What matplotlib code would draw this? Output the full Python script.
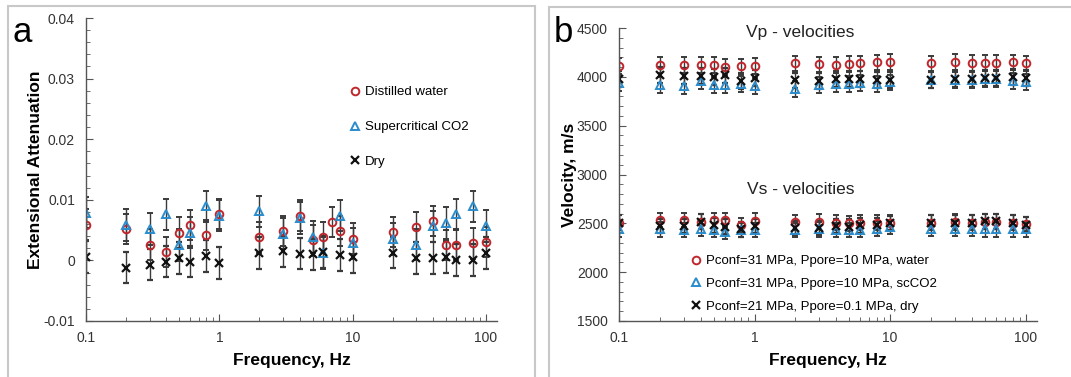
import numpy as np
import matplotlib
matplotlib.use("Agg")
import matplotlib.pyplot as plt
from matplotlib.ticker import MultipleLocator, FuncFormatter, NullFormatter, LogLocator
from matplotlib.patches import Rectangle

plt.rcParams['font.family'] = ['Liberation Sans', 'DejaVu Sans']

# ---- panel a data: extensional attenuation ----
freq_a = [0.1, 0.2, 0.3, 0.4, 0.5, 0.6, 0.8, 1, 2, 3, 4, 5, 6, 8, 10, 20, 30, 40, 50, 60, 80, 100]
freq_water_a = [0.1, 0.2, 0.3, 0.4, 0.5, 0.6, 0.8, 1, 2, 3, 4, 5, 6, 7, 8, 10, 20, 30, 40, 50, 60, 80, 100]
att_water = [0.0059, 0.0052, 0.0026, 0.0014, 0.0046, 0.0058, 0.0042, 0.0077, 0.0038, 0.0049, 0.0074, 0.0033,
             0.0038, 0.0063, 0.0048, 0.0036, 0.0047, 0.0055, 0.0065, 0.0025, 0.0026, 0.0028, 0.0030]
att_co2 = [0.0079, 0.0058, 0.0052, 0.0076, 0.0025, 0.0046, 0.0089, 0.0074, 0.0081, 0.0044, 0.0070, 0.0039,
           0.0012, 0.0074, 0.0028, 0.0035, 0.0026, 0.0056, 0.0062, 0.0076, 0.0089, 0.0057]
att_dry = [0.0006, -0.0012, -0.0007, -0.0002, 0.0004, -0.0002, 0.0007, -0.0004, 0.0012, 0.0015, 0.0011, 0.0010,
           0.0014, 0.0009, 0.0005, 0.0013, 0.0004, 0.0004, 0.0006, 0.0001, 0.0001, 0.0012]
err_water_a = 0.0025
err_co2_a = 0.0026
err_dry_a = 0.0026

# ---- panel b data: velocities ----
freq_b = [0.1, 0.2, 0.3, 0.4, 0.5, 0.6, 0.8, 1, 2, 3, 4, 5, 6, 8, 10, 20, 30, 40, 50, 60, 80, 100]
vp_water = [4113, 4120, 4120, 4120, 4120, 4100, 4107, 4113, 4137, 4127, 4124, 4131, 4137, 4148, 4151,
            4137, 4151, 4144, 4141, 4144, 4148, 4137]
vp_co2 = [3936, 3915, 3908, 3959, 3918, 3915, 3925, 3908, 3874, 3915, 3922, 3925, 3936, 3929, 3942,
          3965, 3968, 3970, 3978, 3980, 3960, 3950]
vp_dry = [3980, 4018, 4007, 4007, 4001, 4014, 3959, 3987, 3963, 3959, 3977, 3980, 3980, 3970, 3970,
          3970, 3977, 3977, 3990, 3990, 3997, 3990]
vs_water = [2506, 2533, 2533, 2516, 2533, 2533, 2482, 2526, 2509, 2516, 2506, 2499, 2506, 2506, 2506,
            2506, 2516, 2506, 2516, 2516, 2506, 2492]
vs_co2 = [2437, 2437, 2430, 2447, 2430, 2413, 2430, 2430, 2430, 2437, 2430, 2430, 2430, 2447, 2464,
          2447, 2447, 2447, 2437, 2437, 2437, 2437]
vs_dry = [2506, 2471, 2471, 2516, 2478, 2465, 2437, 2471, 2454, 2454, 2471, 2465, 2478, 2478, 2499,
          2506, 2506, 2506, 2519, 2519, 2506, 2485]
err_vp = 80
err_vs = 75

labels_a = ["Distilled water", "Supercritical CO2", "Dry"]
labels_b = ["Pconf=31 MPa, Ppore=10 MPa, water", "Pconf=31 MPa, Ppore=10 MPa, scCO2",
            "Pconf=21 MPa, Ppore=0.1 MPa, dry"]

red = '#c0272d'
blue = '#2a8ccc'
blk = '#111111'
ebar = '#3a3a3a'
tickcol = '#333333'

fig = plt.figure(figsize=(10.71, 3.77), dpi=100)

# panel frames
fig.patches.append(Rectangle((8 / 1071, -0.05), (535 - 8) / 1071, 1 - 6 / 377 + 0.05, transform=fig.transFigure,
                             fill=False, ec='#c8c8c8', lw=1.5))
fig.patches.append(Rectangle((549 / 1071, -0.05), 0.5, 1 - 7 / 377 + 0.05, transform=fig.transFigure,
                             fill=False, ec='#c8c8c8', lw=1.5))

ax1 = fig.add_axes([86 / 1071, 1 - 321 / 377, (497 - 86) / 1071, (321 - 18) / 377])
ax2 = fig.add_axes([619 / 1071, 1 - 321 / 377, (1037 - 619) / 1071, (321 - 28) / 377])

eb = dict(ecolor=ebar, elinewidth=1, capsize=2.5, capthick=1, ls='none')

ax1.errorbar(freq_water_a, att_water, yerr=err_water_a, fmt='o', ms=5.5, mfc='none', mec=red, mew=1.4, **eb)
ax1.errorbar(freq_a, att_co2, yerr=err_co2_a, fmt='^', ms=6, mfc='none', mec=blue, mew=1.4, **eb)
ax1.errorbar(freq_a, att_dry, yerr=err_dry_a, fmt='x', ms=6, mec=blk, mew=1.6, **eb)

ax2.errorbar(freq_b, vp_water, yerr=err_vp, fmt='o', ms=5.5, mfc='none', mec=red, mew=1.4, **eb)
ax2.errorbar(freq_b, vp_co2, yerr=err_vp, fmt='^', ms=6, mfc='none', mec=blue, mew=1.4, **eb)
ax2.errorbar(freq_b, vp_dry, yerr=err_vp, fmt='x', ms=6, mec=blk, mew=1.6, **eb)
ax2.errorbar(freq_b, vs_water, yerr=err_vs, fmt='o', ms=5.5, mfc='none', mec=red, mew=1.4, **eb)
ax2.errorbar(freq_b, vs_co2, yerr=err_vs, fmt='^', ms=6, mfc='none', mec=blue, mew=1.4, **eb)
ax2.errorbar(freq_b, vs_dry, yerr=err_vs, fmt='x', ms=6, mec=blk, mew=1.6, **eb)

for ax in (ax1, ax2):
    ax.set_xscale('log')
    ax.set_xlim(0.1, 121)
    ax.xaxis.set_major_locator(LogLocator(base=10, numticks=10))
    ax.xaxis.set_minor_locator(LogLocator(base=10, subs=np.arange(2, 10), numticks=10))
    ax.xaxis.set_minor_formatter(NullFormatter())
    ax.xaxis.set_major_formatter(FuncFormatter(lambda v, p: '%g' % v))
    ax.yaxis.set_major_formatter(FuncFormatter(lambda v, p: '%g' % round(v, 6)))
    ax.spines['top'].set_visible(False)
    ax.spines['right'].set_visible(False)
    for s in ('left', 'bottom'):
        ax.spines[s].set_color('#555555')
        ax.spines[s].set_linewidth(1)
    ax.tick_params(which='both', direction='in', colors='#555555', labelcolor=tickcol, labelsize=10)
    ax.tick_params(which='major', length=5)
    ax.tick_params(which='minor', length=3)
    ax.tick_params(axis='y', pad=8)
    ax.tick_params(axis='x', pad=7)
    ax.set_xlabel('Frequency, Hz', fontsize=12.5, fontweight='bold', labelpad=6)

ax1.set_ylim(-0.01, 0.04)
ax1.yaxis.set_major_locator(MultipleLocator(0.01))
ax1.yaxis.set_minor_locator(MultipleLocator(0.002))
ax1.set_ylabel('Extensional Attenuation', fontsize=12.5, fontweight='bold', labelpad=0)

ax2.set_ylim(1500, 4500)
ax2.yaxis.set_major_locator(MultipleLocator(500))
ax2.yaxis.set_minor_locator(MultipleLocator(100))
ax2.set_ylabel('Velocity, m/s', fontsize=12.5, fontweight='bold', labelpad=0)

# legends (markers only)
lh = [plt.Line2D([], [], ls='none', marker='o', ms=5.5, mfc='none', mec=red, mew=1.4),
      plt.Line2D([], [], ls='none', marker='^', ms=6, mfc='none', mec=blue, mew=1.4),
      plt.Line2D([], [], ls='none', marker='x', ms=6, mec=blk, mew=1.6)]
ax1.legend(lh, labels_a, loc='upper left', bbox_to_anchor=(350 / 1071, 1 - 86 / 377),
           bbox_transform=fig.transFigure, frameon=False, fontsize=9.5, handlelength=0.8,
           handletextpad=0.3, labelspacing=1.72, borderpad=0, borderaxespad=0)
ax2.legend(lh, labels_b, loc='upper left', bbox_to_anchor=(691 / 1071, 1 - 255 / 377),
           bbox_transform=fig.transFigure, frameon=False, fontsize=9.5, handlelength=0.8,
           handletextpad=0.3, labelspacing=0.8, borderpad=0, borderaxespad=0)

ax2.text(800 / 1071, 1 - 32 / 377, 'Vp - velocities', transform=fig.transFigure, ha='center', va='center',
         fontsize=12.5, color='#222222')
ax2.text(801 / 1071, 1 - 190 / 377, 'Vs - velocities', transform=fig.transFigure, ha='center', va='center',
         fontsize=12.5, color='#222222')

fig.text(13 / 1071, 1 - 42 / 377, 'a', fontsize=25, ha='left', va='baseline')
fig.text(554 / 1071, 1 - 42 / 377, 'b', fontsize=25, ha='left', va='baseline')

fig.savefig('out.png', dpi=100)
